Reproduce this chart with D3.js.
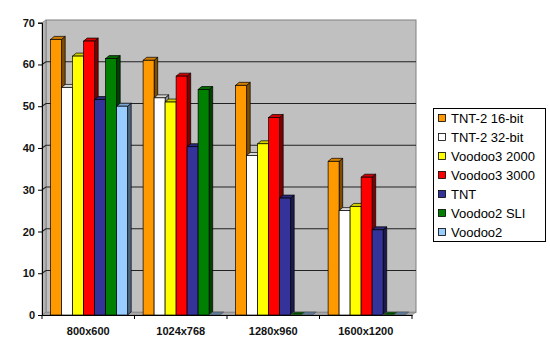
<!DOCTYPE html>
<html><head><meta charset="utf-8">
<script src="https://cdn.jsdelivr.net/npm/d3@7/dist/d3.min.js"></script>
<style>body{margin:0;background:#fff}svg{display:block}</style>
</head><body><svg id="c" width="550" height="352"></svg>
<script>
const categories = ["800x600", "1024x768", "1280x960", "1600x1200"];
const seriesNames = ["TNT-2 16-bit", "TNT-2 32-bit", "Voodoo3 2000", "Voodoo3 3000", "TNT", "Voodoo2 SLI", "Voodoo2"];
const seriesColors = ["#FF9900", "#FFFFFF", "#FFFF00", "#FF0000", "#333399", "#008000", "#99CCFF"];
const tntTwo16 = [66, 61, 55, 36.8];
const tntTwo32 = [54.5, 52, 38.2, 25];
const voodoo3_2000 = [62, 51, 41, 26];
const voodoo3_3000 = [65.6, 57.2, 47.3, 33];
const tnt = [51.6, 40.3, 28, 20.4];
const voodoo2Sli = [61.4, 54, 0, 0];
const voodoo2 = [50, 0, 0, 0];
const seriesValues = [tntTwo16, tntTwo32, voodoo3_2000, voodoo3_3000, tnt, voodoo2Sli, voodoo2];
const yTicks = [0, 10, 20, 30, 40, 50, 60, 70];

const svg = d3.select("#c");
const font = "'Liberation Sans', Arial, sans-serif";
const DX = 4, DY = -2.7;       // wall depth
const BDX = 3.6, BDY = -3;     // bar depth
const x0 = d3.scaleBand().domain(categories).range([42, 412]);
const x1 = d3.scaleBand().domain(seriesNames).range([8.6, 85.6]);
const y = d3.scaleLinear().domain([0, 70]).range([315, 22.7]);

function scale(c, k){ const r = d3.rgb(c); return d3.rgb(r.r*k, r.g*k, r.b*k).toString(); }

const wallFill = "#C0C0C0";
// back wall
svg.append("rect").attr("x", 42+DX).attr("y", y(70)+DY).attr("width", 412-42).attr("height", y(0)-y(70))
  .attr("fill", wallFill).attr("stroke", "#808080").attr("stroke-width", 1);
// side wall
svg.append("path").attr("d", `M42,${y(0)}L42,${y(70)}L${42+DX},${y(70)+DY}L${42+DX},${y(0)+DY}Z`)
  .attr("fill", "#B4B4B4").attr("stroke", "#808080").attr("stroke-width", 0.8);
// floor
svg.append("path").attr("d", `M42,${y(0)}L412,${y(0)}L${412+DX},${y(0)+DY}L${42+DX},${y(0)+DY}Z`)
  .attr("fill", "#A8A8A8").attr("stroke", "#808080").attr("stroke-width", 0.6);

// gridlines
yTicks.filter(t => t > 0 && t < 70).forEach(t => {
  svg.append("path").attr("d", `M42,${y(t)}L${42+DX},${y(t)+DY}L${412+DX},${y(t)+DY}`)
    .attr("fill", "none").attr("stroke", "#222").attr("stroke-width", 1.1);
});

// bars
const g = svg.append("g");
categories.forEach((cat, ci) => {
  seriesNames.forEach((s, si) => {
    const v = seriesValues[si][ci];
    const c = seriesColors[si];
    const xl = x0(cat) + x1(s), w = x1.bandwidth();
    const yt = y(v), yb = y(0);
    const side = si === 1 ? "#909090" : scale(c, 0.5);
    const top = si === 1 ? "#D8D8D8" : scale(c, 0.82);
    const sw = 0.7, st = "#000";
    if (v > 0) {
      g.append("path").attr("d", `M${xl+w},${yb}L${xl+w},${yt}L${xl+w+BDX},${yt+BDY}L${xl+w+BDX},${yb+BDY}Z`)
        .attr("fill", side).attr("stroke", st).attr("stroke-width", sw);
    }
    g.append("path").attr("d", `M${xl},${yt}L${xl+w},${yt}L${xl+w+BDX},${yt+BDY}L${xl+BDX},${yt+BDY}Z`)
      .attr("fill", v > 0 ? top : scale(c, 0.6)).attr("stroke", v > 0 ? st : "#555").attr("stroke-width", sw);
    if (v > 0) {
      g.append("rect").attr("x", xl).attr("y", yt).attr("width", w).attr("height", yb - yt)
        .attr("fill", c).attr("stroke", st).attr("stroke-width", sw);
    }
  });
});

// y axis
const yAxis = d3.axisLeft(y).tickValues(yTicks).tickSize(4).tickPadding(3);
const ya = svg.append("g").attr("transform", "translate(42,0)").call(yAxis);
ya.select(".domain").attr("stroke", "#000");
ya.selectAll(".tick line").attr("stroke", "#000");
ya.selectAll("text").attr("font-family", font).attr("font-size", 11).attr("font-weight", "bold").attr("fill", "#111");

// x axis
const xa = svg.append("g").attr("transform", `translate(0,${y(0)})`)
  .call(d3.axisBottom(x0).tickSize(0).tickPadding(12));
xa.select(".domain").attr("stroke", "#000");
xa.selectAll("text").attr("font-family", font).attr("font-size", 11).attr("font-weight", "bold").attr("fill", "#111");
const bounds = categories.map(c => x0(c)).concat([412]);
xa.selectAll(".bt").data(bounds).join("line").attr("class", "bt")
  .attr("x1", d => d).attr("x2", d => d).attr("y1", 0).attr("y2", 4).attr("stroke", "#000");

// legend
const lg = svg.append("g");
lg.append("rect").attr("x", 433.5).attr("y", 108.5).attr("width", 112).attr("height", 133)
  .attr("fill", "#fff").attr("stroke", "#000").attr("stroke-width", 1);
seriesNames.forEach((s, i) => {
  const cy = 118 + i * 19;
  lg.append("rect").attr("x", 438.5).attr("y", cy - 3.5).attr("width", 7).attr("height", 7)
    .attr("fill", seriesColors[i]).attr("stroke", "#000").attr("stroke-width", 0.8);
  lg.append("text").attr("x", 451).attr("y", cy).attr("dy", "0.36em")
    .attr("font-family", font).attr("font-size", 13).attr("fill", "#000").text(s);
});
</script></body></html>
